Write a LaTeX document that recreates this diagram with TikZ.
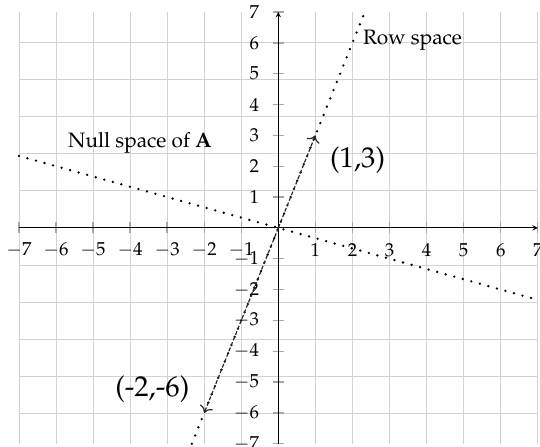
\documentclass[tikz,border=0pt]{standalone}
\usepackage[T1]{fontenc}
\usepackage{mathpazo}
\usepackage{tikz}
\usetikzlibrary{arrows,arrows.meta}

\begin{document}
\begin{tikzpicture}[x=1cm, y=0.832cm,
    gridline/.style={gray!35, line width=0.6pt},
    axisline/.style={-stealth, line width=0.8pt},
    tickmark/.style={gray!70, line width=1pt},
    ticklabel/.style={font=\Large},
    spaceline/.style={line width=2pt, line cap=round, dash pattern=on 0pt off 6.8pt},
    vecline/.style={-{To[scale=1.4]}, line width=0.9pt, black!85, dash pattern=on 3pt off 1.5pt},
    spacelabel/.style={font=\fontsize{16}{19}\selectfont},
    veclabel/.style={font=\fontsize{22}{26}\selectfont},
]
    \useasboundingbox (-7.51,-7.10) rectangle (7.06,7.39);
    \draw[gridline] (-7,-7) grid (7,7);

    % ticks and numbers
    \foreach \k in {-7,...,-1,1,2,...,7} {
        \draw[tickmark] (-0.15,\k) -- (0.15,\k);
        \draw[tickmark] (\k,-0.18) -- (\k,0.18);
        \node[ticklabel] at (\k,-0.71) {$\k$};
        \node[ticklabel, anchor=east] at (-0.4,\k) {$\k$};
    }

    % axes
    \coordinate (xleft) at (-7,0);
    \coordinate (xright) at (7,0);
    \coordinate (ybottom) at (0,-7);
    \coordinate (ytop) at (0,7);
    \draw[axisline] (xleft) -- (xright);
    \draw[axisline] (ybottom) -- (ytop);

    % row space and null space
    \coordinate (rowlow) at (-7/3,-7);
    \coordinate (rowhigh) at (7/3,7);
    \coordinate (nullleft) at (-7,7/3);
    \coordinate (nullright) at (7,-7/3);
    \draw[spaceline] (rowlow) -- (rowhigh);
    \draw[spaceline] (nullleft) -- (nullright);

    % vectors
    \coordinate (origin) at (0,0);
    \coordinate (rowvec) at (1,3);
    \coordinate (negvec) at (-2,-6);
    \draw[vecline] (origin) -- (rowvec);
    \draw[vecline] (origin) -- (negvec);

    \node[veclabel] (rowveclabel) at (2.14,2.2) {(1,3)};
    \node[veclabel] (negveclabel) at (-3.4,-5.23) {(-2,-6)};
    \node[spacelabel] (rowlabel) at (3.62,6.07) {Row space};
    \node[spacelabel] (nulllabel) at (-3.73,2.76) {Null space of $\mathbf{A}$};
\end{tikzpicture}
\end{document}
